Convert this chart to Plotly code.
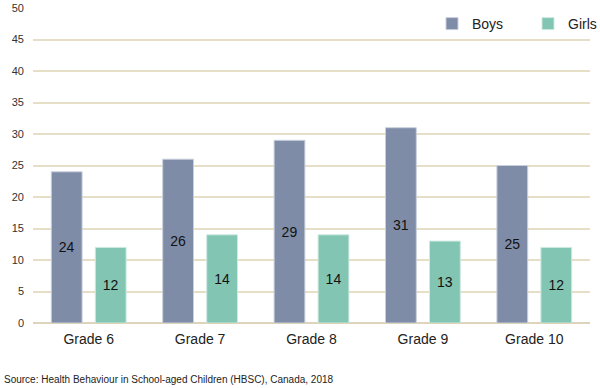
import plotly.graph_objects as go

categories = ["Grade 6", "Grade 7", "Grade 8", "Grade 9", "Grade 10"]
boys = [24, 26, 29, 31, 25]
girls = [12, 14, 14, 13, 12]
y_ticks = [0, 5, 10, 15, 20, 25, 30, 35, 40, 45, 50]

fig = go.Figure()
fig.add_trace(go.Bar(x=categories, y=boys, name="Boys", text=boys,
                     textposition="inside", insidetextanchor="middle",
                     textfont=dict(color="#111", size=14),
                     marker=dict(color="#7f8ca8", line=dict(color="#c9d0dc", width=1))))
fig.add_trace(go.Bar(x=categories, y=girls, name="Girls", text=girls,
                     textposition="inside", insidetextanchor="middle",
                     textfont=dict(color="#111", size=14),
                     marker=dict(color="#83c5b3", line=dict(color="#cde9e1", width=1))))

fig.update_layout(
    width=600, height=388,
    margin=dict(l=33, r=10, t=8, b=65, autoexpand=False),
    barmode="group", bargap=0.21, bargroupgap=0.3,
    plot_bgcolor="white", paper_bgcolor="white",
    font=dict(family="Liberation Sans, Arial, sans-serif", color="#222"),
    showlegend=True,
    legend=dict(orientation="h", x=(432 - 33) / 557, xanchor="left", y=1.0, yanchor="top",
                font=dict(size=14), bgcolor="rgba(255,255,255,0)", itemwidth=30,
                entrywidth=51, tracegroupgap=0),
    uniformtext=dict(mode="show", minsize=14),
)
fig.update_yaxes(range=[0, 50], tickvals=y_ticks, showgrid=True, gridcolor="#e6dec6",
                 gridwidth=2, zeroline=True, zerolinecolor="#ddd4bb", zerolinewidth=2,
                 tickfont=dict(size=11, color="#333"), ticks="", showline=False,
                 automargin=False, ticklabelstandoff=8)
fig.update_xaxes(tickfont=dict(size=14, color="#222"), showline=False, ticks="",
                 automargin=False, ticklabelstandoff=6)

fig.add_annotation(text="Source: Health Behaviour in School-aged Children (HBSC), Canada, 2018",
                   xref="paper", yref="paper", x=-31/557, y=-49/315, xanchor="left", yanchor="top",
                   showarrow=False, font=dict(size=10, color="#222"))

fig.write_html("out.html", config={"displayModeBar": False},
               post_script="document.body.style.margin='0';")
